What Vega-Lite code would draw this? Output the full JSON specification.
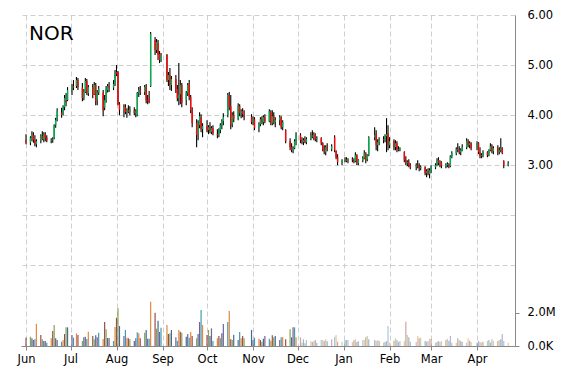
{
  "$schema": "https://vega.github.io/schema/vega-lite/v6.json",
  "width": 494,
  "height": 331,
  "autosize": {"type": "none"},
  "padding": {"left": 21, "top": 15, "right": 55, "bottom": 24},
  "background": "#ffffff",
  "config": {"view": {"stroke": null}, "font": "DejaVu Sans"},
  "title": {"text": "NOR", "anchor": "start", "frame": "group", "orient": "top", "fontSize": 20, "fontWeight": "normal", "font": "DejaVu Sans", "color": "#000000", "baseline": "alphabetic", "offset": 0, "dx": 8, "dy": 51},
  "data": {"values": [
{"d":"2012-06-01","o":3.50,"h":3.62,"l":3.42,"c":3.45,"v":0.5},
{"d":"2012-06-04","o":3.45,"h":3.58,"l":3.40,"c":3.55,"v":0.56},
{"d":"2012-06-05","o":3.55,"h":3.68,"l":3.48,"c":3.60,"v":0.46},
{"d":"2012-06-06","o":3.60,"h":3.66,"l":3.45,"c":3.50,"v":0.36},
{"d":"2012-06-07","o":3.50,"h":3.60,"l":3.38,"c":3.42,"v":0.4},
{"d":"2012-06-08","o":3.42,"h":3.52,"l":3.36,"c":3.48,"v":1.34},
{"d":"2012-06-11","o":3.50,"h":3.62,"l":3.44,"c":3.58,"v":0.66},
{"d":"2012-06-12","o":3.58,"h":3.68,"l":3.50,"c":3.52,"v":0.4},
{"d":"2012-06-13","o":3.52,"h":3.66,"l":3.46,"c":3.62,"v":0.3},
{"d":"2012-06-14","o":3.62,"h":3.66,"l":3.48,"c":3.55,"v":0.3},
{"d":"2012-06-15","o":3.55,"h":3.60,"l":3.46,"c":3.50,"v":0.2},
{"d":"2012-06-18","o":3.48,"h":3.54,"l":3.44,"c":3.50,"v":0.46},
{"d":"2012-06-19","o":3.50,"h":3.56,"l":3.45,"c":3.52,"v":0.9},
{"d":"2012-06-20","o":3.54,"h":3.82,"l":3.52,"c":3.80,"v":1.26},
{"d":"2012-06-21","o":3.80,"h":3.95,"l":3.75,"c":3.90,"v":0.46},
{"d":"2012-06-22","o":3.92,"h":4.14,"l":3.88,"c":4.08,"v":0.36},
{"d":"2012-06-25","o":4.05,"h":4.15,"l":3.95,"c":4.00,"v":0.26},
{"d":"2012-06-26","o":4.02,"h":4.20,"l":4.00,"c":4.16,"v":0.36},
{"d":"2012-06-27","o":4.16,"h":4.40,"l":4.10,"c":4.34,"v":0.72},
{"d":"2012-06-28","o":4.30,"h":4.44,"l":4.18,"c":4.26,"v":1.12},
{"d":"2012-06-29","o":4.30,"h":4.56,"l":4.28,"c":4.50,"v":1.12},
{"d":"2012-07-02","o":4.50,"h":4.62,"l":4.40,"c":4.58,"v":0.66},
{"d":"2012-07-03","o":4.58,"h":4.70,"l":4.50,"c":4.55,"v":0.5},
{"d":"2012-07-05","o":4.58,"h":4.76,"l":4.54,"c":4.70,"v":0.76},
{"d":"2012-07-06","o":4.70,"h":4.74,"l":4.50,"c":4.56,"v":0.66},
{"d":"2012-07-09","o":4.55,"h":4.64,"l":4.28,"c":4.34,"v":0.3},
{"d":"2012-07-10","o":4.34,"h":4.52,"l":4.30,"c":4.46,"v":0.52},
{"d":"2012-07-11","o":4.46,"h":4.74,"l":4.44,"c":4.68,"v":0.56},
{"d":"2012-07-12","o":4.68,"h":4.72,"l":4.40,"c":4.44,"v":0.42},
{"d":"2012-07-13","o":4.44,"h":4.60,"l":4.38,"c":4.56,"v":0.86},
{"d":"2012-07-16","o":4.55,"h":4.62,"l":4.34,"c":4.40,"v":0.6},
{"d":"2012-07-17","o":4.42,"h":4.66,"l":4.40,"c":4.60,"v":0.4},
{"d":"2012-07-18","o":4.60,"h":4.64,"l":4.20,"c":4.28,"v":0.64},
{"d":"2012-07-19","o":4.30,"h":4.50,"l":4.20,"c":4.45,"v":0.52},
{"d":"2012-07-20","o":4.45,"h":4.58,"l":4.40,"c":4.52,"v":0.8},
{"d":"2012-07-23","o":4.45,"h":4.50,"l":3.98,"c":4.10,"v":0.42},
{"d":"2012-07-24","o":4.15,"h":4.40,"l":4.10,"c":4.30,"v":1.44},
{"d":"2012-07-25","o":4.30,"h":4.58,"l":4.25,"c":4.52,"v":1.0},
{"d":"2012-07-26","o":4.50,"h":4.62,"l":4.45,"c":4.58,"v":0.48},
{"d":"2012-07-27","o":4.58,"h":4.66,"l":4.46,"c":4.55,"v":0.48},
{"d":"2012-07-30","o":4.55,"h":4.70,"l":4.50,"c":4.62,"v":0.3},
{"d":"2012-07-31","o":4.62,"h":4.90,"l":4.58,"c":4.84,"v":1.14},
{"d":"2012-08-01","o":4.86,"h":5.00,"l":4.78,"c":4.82,"v":1.7},
{"d":"2012-08-02","o":4.86,"h":4.88,"l":4.20,"c":4.22,"v":2.26},
{"d":"2012-08-03","o":4.22,"h":4.26,"l":4.00,"c":4.10,"v":1.2},
{"d":"2012-08-06","o":4.10,"h":4.22,"l":3.96,"c":4.16,"v":0.6},
{"d":"2012-08-07","o":4.16,"h":4.22,"l":4.02,"c":4.06,"v":0.96},
{"d":"2012-08-08","o":4.06,"h":4.14,"l":3.95,"c":4.10,"v":0.5},
{"d":"2012-08-09","o":4.10,"h":4.20,"l":4.04,"c":4.06,"v":0.46},
{"d":"2012-08-10","o":4.06,"h":4.18,"l":4.00,"c":4.12,"v":0.4},
{"d":"2012-08-13","o":4.10,"h":4.16,"l":4.00,"c":4.04,"v":0.3},
{"d":"2012-08-14","o":4.04,"h":4.12,"l":3.96,"c":4.08,"v":0.46},
{"d":"2012-08-15","o":4.00,"h":4.46,"l":3.98,"c":4.44,"v":0.82},
{"d":"2012-08-16","o":4.44,"h":4.56,"l":4.36,"c":4.50,"v":0.76},
{"d":"2012-08-17","o":4.50,"h":4.58,"l":4.40,"c":4.46,"v":0.46},
{"d":"2012-08-20","o":4.46,"h":4.60,"l":4.40,"c":4.56,"v":0.8},
{"d":"2012-08-21","o":4.56,"h":4.62,"l":4.24,"c":4.30,"v":0.96},
{"d":"2012-08-22","o":4.30,"h":4.40,"l":4.22,"c":4.28,"v":0.44},
{"d":"2012-08-23","o":4.32,"h":4.48,"l":4.24,"c":4.26,"v":0.44},
{"d":"2012-08-24","o":4.58,"h":5.66,"l":4.56,"c":5.62,"v":2.66},
{"d":"2012-08-27","o":5.50,"h":5.56,"l":5.20,"c":5.30,"v":2.0},
{"d":"2012-08-28","o":5.30,"h":5.52,"l":5.24,"c":5.46,"v":1.04},
{"d":"2012-08-29","o":5.44,"h":5.50,"l":5.10,"c":5.20,"v":1.52},
{"d":"2012-08-30","o":5.22,"h":5.28,"l":5.04,"c":5.10,"v":0.84},
{"d":"2012-08-31","o":5.10,"h":5.24,"l":5.06,"c":5.18,"v":1.1},
{"d":"2012-09-04","o":5.20,"h":5.22,"l":4.66,"c":4.70,"v":1.26},
{"d":"2012-09-05","o":4.70,"h":4.86,"l":4.58,"c":4.80,"v":0.72},
{"d":"2012-09-06","o":4.80,"h":4.94,"l":4.50,"c":4.60,"v":0.76},
{"d":"2012-09-07","o":4.60,"h":4.78,"l":4.48,"c":4.72,"v":0.96},
{"d":"2012-09-10","o":4.72,"h":4.80,"l":4.44,"c":4.52,"v":0.52},
{"d":"2012-09-11","o":4.52,"h":4.60,"l":4.28,"c":4.34,"v":0.3},
{"d":"2012-09-12","o":4.34,"h":5.04,"l":4.20,"c":4.40,"v":0.96},
{"d":"2012-09-13","o":4.42,"h":4.70,"l":4.22,"c":4.60,"v":0.86},
{"d":"2012-09-14","o":4.60,"h":4.64,"l":4.16,"c":4.24,"v":0.8},
{"d":"2012-09-17","o":4.30,"h":4.48,"l":4.20,"c":4.44,"v":0.56},
{"d":"2012-09-18","o":4.44,"h":4.64,"l":4.38,"c":4.60,"v":0.72},
{"d":"2012-09-19","o":4.62,"h":4.70,"l":4.30,"c":4.36,"v":0.5},
{"d":"2012-09-20","o":4.36,"h":4.40,"l":4.04,"c":4.10,"v":0.84},
{"d":"2012-09-21","o":4.10,"h":4.16,"l":3.76,"c":3.84,"v":0.6},
{"d":"2012-09-24","o":3.84,"h":3.92,"l":3.36,"c":3.60,"v":0.46},
{"d":"2012-09-25","o":3.62,"h":3.90,"l":3.50,"c":3.80,"v":0.72},
{"d":"2012-09-26","o":3.80,"h":4.06,"l":3.74,"c":3.98,"v":1.44},
{"d":"2012-09-27","o":3.96,"h":4.02,"l":3.66,"c":3.72,"v":2.16},
{"d":"2012-09-28","o":3.72,"h":3.84,"l":3.56,"c":3.78,"v":1.26},
{"d":"2012-10-01","o":3.78,"h":3.90,"l":3.66,"c":3.70,"v":0.66},
{"d":"2012-10-02","o":3.70,"h":3.80,"l":3.62,"c":3.76,"v":0.96},
{"d":"2012-10-03","o":3.76,"h":3.86,"l":3.64,"c":3.68,"v":0.6},
{"d":"2012-10-04","o":3.66,"h":3.78,"l":3.62,"c":3.74,"v":1.06},
{"d":"2012-10-05","o":3.74,"h":3.80,"l":3.60,"c":3.64,"v":0.3},
{"d":"2012-10-08","o":3.62,"h":3.72,"l":3.54,"c":3.60,"v":0.46},
{"d":"2012-10-09","o":3.60,"h":3.74,"l":3.56,"c":3.70,"v":0.6},
{"d":"2012-10-10","o":3.70,"h":3.84,"l":3.64,"c":3.80,"v":0.46},
{"d":"2012-10-11","o":3.80,"h":3.92,"l":3.72,"c":3.88,"v":0.76},
{"d":"2012-10-12","o":3.88,"h":4.04,"l":3.80,"c":3.96,"v":1.32},
{"d":"2012-10-15","o":4.00,"h":4.44,"l":3.96,"c":4.40,"v":1.44},
{"d":"2012-10-16","o":4.40,"h":4.46,"l":4.10,"c":4.16,"v":2.1},
{"d":"2012-10-17","o":4.18,"h":4.40,"l":3.72,"c":3.80,"v":0.4},
{"d":"2012-10-18","o":3.82,"h":4.06,"l":3.76,"c":4.00,"v":0.36},
{"d":"2012-10-19","o":4.00,"h":4.08,"l":3.86,"c":3.92,"v":0.68},
{"d":"2012-10-22","o":3.92,"h":4.24,"l":3.90,"c":4.18,"v":0.36},
{"d":"2012-10-23","o":4.18,"h":4.22,"l":3.98,"c":4.04,"v":0.84},
{"d":"2012-10-24","o":4.04,"h":4.12,"l":3.94,"c":4.08,"v":0.46},
{"d":"2012-10-25","o":4.08,"h":4.14,"l":3.96,"c":4.02,"v":0.6},
{"d":"2012-10-26","o":4.00,"h":4.10,"l":3.90,"c":3.96,"v":0.46},
{"d":"2012-10-31","o":3.96,"h":4.02,"l":3.82,"c":3.86,"v":0.96},
{"d":"2012-11-01","o":3.86,"h":3.98,"l":3.80,"c":3.92,"v":0.36},
{"d":"2012-11-02","o":3.92,"h":3.96,"l":3.70,"c":3.74,"v":0.5},
{"d":"2012-11-05","o":3.74,"h":3.86,"l":3.66,"c":3.82,"v":0.44},
{"d":"2012-11-06","o":3.82,"h":3.96,"l":3.78,"c":3.92,"v":0.36},
{"d":"2012-11-07","o":3.92,"h":3.98,"l":3.82,"c":3.86,"v":0.26},
{"d":"2012-11-08","o":3.86,"h":4.00,"l":3.80,"c":3.96,"v":0.44},
{"d":"2012-11-09","o":3.96,"h":4.02,"l":3.84,"c":3.88,"v":0.6},
{"d":"2012-11-12","o":3.88,"h":4.12,"l":3.86,"c":4.08,"v":0.44},
{"d":"2012-11-13","o":4.06,"h":4.10,"l":3.80,"c":3.84,"v":0.32},
{"d":"2012-11-14","o":3.84,"h":4.10,"l":3.80,"c":3.98,"v":0.64},
{"d":"2012-11-15","o":3.98,"h":4.06,"l":3.82,"c":3.86,"v":0.52},
{"d":"2012-11-16","o":3.86,"h":3.96,"l":3.76,"c":3.90,"v":0.6},
{"d":"2012-11-19","o":3.90,"h":4.00,"l":3.80,"c":3.96,"v":0.36},
{"d":"2012-11-20","o":3.96,"h":3.98,"l":3.72,"c":3.76,"v":0.52},
{"d":"2012-11-21","o":3.76,"h":3.90,"l":3.70,"c":3.86,"v":0.52},
{"d":"2012-11-23","o":3.70,"h":3.72,"l":3.44,"c":3.48,"v":0.4},
{"d":"2012-11-26","o":3.48,"h":3.54,"l":3.30,"c":3.36,"v":1.0},
{"d":"2012-11-27","o":3.36,"h":3.44,"l":3.26,"c":3.30,"v":0.52},
{"d":"2012-11-28","o":3.30,"h":3.38,"l":3.24,"c":3.34,"v":1.12},
{"d":"2012-11-29","o":3.34,"h":3.52,"l":3.32,"c":3.48,"v":1.12},
{"d":"2012-11-30","o":3.48,"h":3.66,"l":3.40,"c":3.60,"v":0.52},
{"d":"2012-12-03","o":3.60,"h":3.64,"l":3.44,"c":3.50,"v":0.52},
{"d":"2012-12-04","o":3.50,"h":3.56,"l":3.42,"c":3.46,"v":0.2},
{"d":"2012-12-05","o":3.46,"h":3.54,"l":3.40,"c":3.50,"v":0.4},
{"d":"2012-12-06","o":3.50,"h":3.58,"l":3.44,"c":3.46,"v":0.16},
{"d":"2012-12-07","o":3.46,"h":3.56,"l":3.42,"c":3.52,"v":0.36},
{"d":"2012-12-10","o":3.52,"h":3.66,"l":3.50,"c":3.60,"v":0.28},
{"d":"2012-12-11","o":3.60,"h":3.70,"l":3.54,"c":3.56,"v":0.24},
{"d":"2012-12-12","o":3.56,"h":3.66,"l":3.50,"c":3.62,"v":0.3},
{"d":"2012-12-13","o":3.62,"h":3.64,"l":3.48,"c":3.52,"v":0.36},
{"d":"2012-12-14","o":3.52,"h":3.58,"l":3.46,"c":3.54,"v":0.2},
{"d":"2012-12-17","o":3.54,"h":3.56,"l":3.40,"c":3.44,"v":0.36},
{"d":"2012-12-18","o":3.44,"h":3.46,"l":3.28,"c":3.32,"v":0.36},
{"d":"2012-12-19","o":3.32,"h":3.40,"l":3.22,"c":3.26,"v":0.3},
{"d":"2012-12-20","o":3.26,"h":3.40,"l":3.20,"c":3.36,"v":0.4},
{"d":"2012-12-21","o":3.36,"h":3.44,"l":3.28,"c":3.32,"v":0.28},
{"d":"2012-12-24","o":3.32,"h":3.42,"l":3.28,"c":3.38,"v":0.4},
{"d":"2012-12-26","o":3.56,"h":3.60,"l":3.26,"c":3.30,"v":0.56},
{"d":"2012-12-27","o":3.28,"h":3.30,"l":3.12,"c":3.16,"v":0.66},
{"d":"2012-12-28","o":3.16,"h":3.22,"l":3.00,"c":3.06,"v":0.26},
{"d":"2012-12-31","o":3.06,"h":3.12,"l":3.00,"c":3.10,"v":0.26},
{"d":"2013-01-02","o":3.10,"h":3.16,"l":3.06,"c":3.12,"v":0.34},
{"d":"2013-01-03","o":3.12,"h":3.16,"l":3.06,"c":3.08,"v":0.36},
{"d":"2013-01-04","o":3.08,"h":3.14,"l":3.04,"c":3.12,"v":0.36},
{"d":"2013-01-07","o":3.12,"h":3.16,"l":3.06,"c":3.10,"v":0.24},
{"d":"2013-01-08","o":3.10,"h":3.14,"l":3.04,"c":3.08,"v":0.34},
{"d":"2013-01-09","o":3.08,"h":3.26,"l":3.06,"c":3.20,"v":0.4},
{"d":"2013-01-10","o":3.20,"h":3.22,"l":3.00,"c":3.04,"v":0.24},
{"d":"2013-01-11","o":3.04,"h":3.12,"l":3.00,"c":3.10,"v":0.3},
{"d":"2013-01-14","o":3.10,"h":3.18,"l":3.06,"c":3.14,"v":0.36},
{"d":"2013-01-15","o":3.14,"h":3.30,"l":3.12,"c":3.24,"v":0.36},
{"d":"2013-01-16","o":3.24,"h":3.26,"l":3.04,"c":3.10,"v":0.52},
{"d":"2013-01-17","o":3.12,"h":3.22,"l":3.08,"c":3.20,"v":0.6},
{"d":"2013-01-18","o":3.20,"h":3.58,"l":3.18,"c":3.56,"v":0.4},
{"d":"2013-01-22","o":3.56,"h":3.76,"l":3.50,"c":3.60,"v":0.36},
{"d":"2013-01-23","o":3.62,"h":3.70,"l":3.30,"c":3.40,"v":0.3},
{"d":"2013-01-24","o":3.40,"h":3.52,"l":3.28,"c":3.46,"v":0.36},
{"d":"2013-01-25","o":3.46,"h":3.56,"l":3.40,"c":3.52,"v":0.3},
{"d":"2013-01-28","o":3.52,"h":3.58,"l":3.44,"c":3.50,"v":0.2},
{"d":"2013-01-29","o":3.50,"h":3.62,"l":3.46,"c":3.58,"v":0.24},
{"d":"2013-01-30","o":3.58,"h":3.94,"l":3.26,"c":3.62,"v":0.3},
{"d":"2013-01-31","o":3.64,"h":3.80,"l":3.30,"c":3.40,"v":1.2},
{"d":"2013-02-01","o":3.40,"h":3.56,"l":3.34,"c":3.48,"v":0.2},
{"d":"2013-02-04","o":3.48,"h":3.52,"l":3.30,"c":3.36,"v":0.32},
{"d":"2013-02-05","o":3.36,"h":3.50,"l":3.30,"c":3.44,"v":0.46},
{"d":"2013-02-06","o":3.44,"h":3.48,"l":3.26,"c":3.32,"v":0.36},
{"d":"2013-02-07","o":3.32,"h":3.38,"l":3.28,"c":3.30,"v":0.24},
{"d":"2013-02-08","o":3.30,"h":3.36,"l":3.28,"c":3.34,"v":0.3},
{"d":"2013-02-11","o":3.26,"h":3.28,"l":3.06,"c":3.10,"v":0.3},
{"d":"2013-02-12","o":3.10,"h":3.18,"l":3.00,"c":3.04,"v":1.46},
{"d":"2013-02-13","o":3.04,"h":3.10,"l":2.98,"c":3.06,"v":0.66},
{"d":"2013-02-14","o":3.06,"h":3.12,"l":2.96,"c":3.00,"v":0.52},
{"d":"2013-02-15","o":3.00,"h":3.04,"l":2.92,"c":2.96,"v":0.26},
{"d":"2013-02-19","o":2.96,"h":3.04,"l":2.90,"c":3.00,"v":0.26},
{"d":"2013-02-20","o":3.00,"h":3.10,"l":2.94,"c":2.98,"v":0.6},
{"d":"2013-02-21","o":2.98,"h":3.04,"l":2.88,"c":2.94,"v":0.46},
{"d":"2013-02-22","o":2.94,"h":3.00,"l":2.90,"c":2.96,"v":0.5},
{"d":"2013-02-25","o":2.96,"h":2.98,"l":2.80,"c":2.84,"v":0.3},
{"d":"2013-02-26","o":2.84,"h":2.92,"l":2.76,"c":2.88,"v":0.26},
{"d":"2013-02-27","o":2.88,"h":2.94,"l":2.80,"c":2.82,"v":0.3},
{"d":"2013-02-28","o":2.82,"h":2.94,"l":2.74,"c":2.90,"v":0.44},
{"d":"2013-03-01","o":2.90,"h":3.00,"l":2.84,"c":2.96,"v":0.4},
{"d":"2013-03-04","o":2.96,"h":3.04,"l":2.92,"c":3.00,"v":0.2},
{"d":"2013-03-05","o":3.00,"h":3.14,"l":2.98,"c":3.10,"v":0.24},
{"d":"2013-03-06","o":3.10,"h":3.16,"l":3.00,"c":3.04,"v":0.3},
{"d":"2013-03-07","o":3.04,"h":3.10,"l":2.96,"c":3.06,"v":0.24},
{"d":"2013-03-08","o":3.06,"h":3.08,"l":2.94,"c":2.98,"v":0.3},
{"d":"2013-03-11","o":2.98,"h":3.04,"l":2.94,"c":3.00,"v":0.36},
{"d":"2013-03-12","o":3.00,"h":3.06,"l":2.96,"c":3.02,"v":0.44},
{"d":"2013-03-13","o":3.02,"h":3.04,"l":2.94,"c":2.98,"v":0.3},
{"d":"2013-03-14","o":2.98,"h":3.20,"l":2.96,"c":3.18,"v":0.6},
{"d":"2013-03-15","o":3.18,"h":3.28,"l":3.14,"c":3.24,"v":0.2},
{"d":"2013-03-18","o":3.24,"h":3.36,"l":3.20,"c":3.32,"v":0.2},
{"d":"2013-03-19","o":3.32,"h":3.44,"l":3.26,"c":3.30,"v":0.46},
{"d":"2013-03-20","o":3.30,"h":3.38,"l":3.22,"c":3.26,"v":0.36},
{"d":"2013-03-21","o":3.26,"h":3.34,"l":3.20,"c":3.30,"v":0.3},
{"d":"2013-03-22","o":3.30,"h":3.42,"l":3.28,"c":3.36,"v":0.24},
{"d":"2013-03-25","o":3.36,"h":3.54,"l":3.32,"c":3.48,"v":0.2},
{"d":"2013-03-26","o":3.48,"h":3.52,"l":3.36,"c":3.40,"v":0.46},
{"d":"2013-03-27","o":3.40,"h":3.48,"l":3.34,"c":3.44,"v":0.32},
{"d":"2013-03-28","o":3.44,"h":3.46,"l":3.30,"c":3.34,"v":0.24},
{"d":"2013-04-01","o":3.34,"h":3.48,"l":3.30,"c":3.44,"v":0.2},
{"d":"2013-04-02","o":3.44,"h":3.46,"l":3.22,"c":3.26,"v":0.3},
{"d":"2013-04-03","o":3.26,"h":3.36,"l":3.14,"c":3.18,"v":0.24},
{"d":"2013-04-04","o":3.18,"h":3.24,"l":3.14,"c":3.20,"v":0.2},
{"d":"2013-04-05","o":3.20,"h":3.30,"l":3.16,"c":3.26,"v":0.26},
{"d":"2013-04-08","o":3.26,"h":3.28,"l":3.16,"c":3.20,"v":0.3},
{"d":"2013-04-09","o":3.20,"h":3.32,"l":3.18,"c":3.30,"v":0.36},
{"d":"2013-04-10","o":3.30,"h":3.44,"l":3.28,"c":3.38,"v":0.2},
{"d":"2013-04-11","o":3.38,"h":3.42,"l":3.24,"c":3.28,"v":0.4},
{"d":"2013-04-12","o":3.28,"h":3.38,"l":3.22,"c":3.34,"v":0.3},
{"d":"2013-04-15","o":3.34,"h":3.40,"l":3.20,"c":3.26,"v":0.3},
{"d":"2013-04-16","o":3.26,"h":3.36,"l":3.22,"c":3.30,"v":0.36},
{"d":"2013-04-17","o":3.30,"h":3.54,"l":3.26,"c":3.34,"v":0.4},
{"d":"2013-04-18","o":3.34,"h":3.36,"l":3.22,"c":3.24,"v":0.72},
{"d":"2013-04-19","o":3.08,"h":3.10,"l":2.94,"c":3.00,"v":0.3},
{"d":"2013-04-22","o":3.00,"h":3.08,"l":2.98,"c":3.04,"v":0.2}
  ]},
  "encoding": {
    "x": {
      "field": "d", "type": "temporal",
      "scale": {"type": "utc", "domain": [{"year": 2012, "month": 6, "date": 1, "utc": true}, {"year": 2013, "month": 4, "date": 23, "hours": 5, "utc": true}], "nice": false},
      "axis": {"title": null, "format": "%b", "tickCount": "month", "labelFlush": false, "labelOverlap": false, "labelFont": "DejaVu Sans", "labelFontSize": 11.5, "labelColor": "#000000", "labelPadding": 3, "tickSize": 4, "tickColor": "#888888", "domainColor": "#888888", "grid": true, "gridColor": "#cfcfcf", "gridDash": [5, 3], "gridWidth": 1}
    }
  },
  "layer": [
    {
      "layer": [
        {
          "mark": {"type": "rule", "color": "#000000", "strokeWidth": 1.1, "clip": true},
          "encoding": {
            "y": {"field": "l", "type": "quantitative", "scale": {"domain": [-0.61, 6.0], "nice": false, "zero": false},
              "axis": {"orient": "right", "title": null, "values": [1, 2, 3, 4, 5, 6], "labelExpr": "datum.value >= 3 ? format(datum.value, '.2f') : ''", "ticks": false, "labelPadding": 12, "labelFont": "DejaVu Sans", "labelFontSize": 11.5, "labelColor": "#000000", "domainColor": "#888888", "grid": true, "gridColor": "#cfcfcf", "gridDash": [5, 3], "gridWidth": 1}},
            "y2": {"field": "h"}
          }
        },
        {
          "mark": {"type": "bar", "size": 1.4, "clip": true},
          "encoding": {
            "y": {"field": "o", "type": "quantitative", "scale": {"domain": [-0.61, 6.0], "nice": false, "zero": false}},
            "y2": {"field": "c"},
            "color": {"condition": {"test": "datum.c >= datum.o", "value": "#00B050"}, "value": "#FF0000"}
          }
        }
      ]
    },
    {
      "mark": {"type": "bar", "size": 1.2, "clip": true},
      "encoding": {
        "y": {"field": "v", "type": "quantitative", "scale": {"domain": [0, 19.88], "nice": false},
          "axis": {"orient": "right", "title": null, "values": [0, 2], "labelExpr": "datum.value == 0 ? '0.0K' : format(datum.value, '.1f') + 'M'", "ticks": true, "tickSize": 4, "tickColor": "#888888", "labelPadding": 8, "labelFont": "DejaVu Sans", "labelFontSize": 11.5, "labelColor": "#000000", "domain": false, "grid": false}},
        "color": {"field": "d", "type": "nominal", "legend": null, "scale": {"range": ["#8E3B3A", "#7A9A3C", "#2E5C8A", "#6B4F8F", "#2F8FA8", "#E07B2A"]}},
        "opacity": {"condition": {"test": "time(datum.d) >= time(datetime(2012, 11, 1))", "value": 0.45}, "value": 0.9}
      }
    }
  ],
  "resolve": {"scale": {"y": "independent"}, "axis": {"y": "independent"}}
}
